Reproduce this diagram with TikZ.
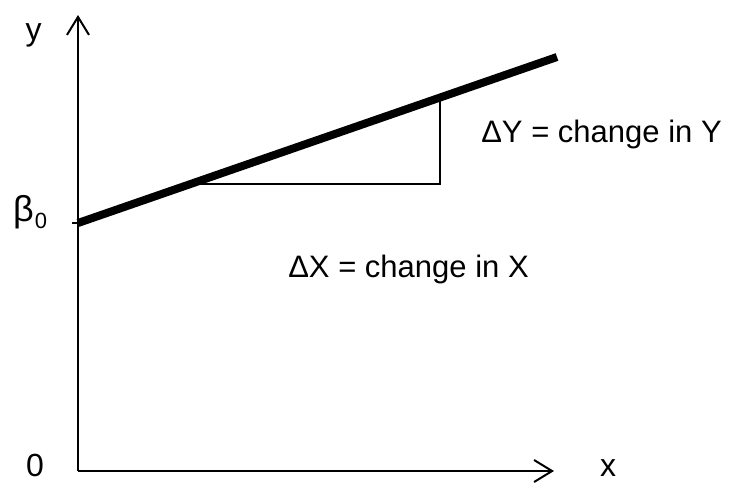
\documentclass[tikz,border=0pt]{standalone}
\usepackage{fontspec}
\setmainfont{Liberation Sans}
\usetikzlibrary{arrows.meta}

\begin{document}
\begin{tikzpicture}[
  x=1pt, y=-1pt,
  axis/.style={line width=2pt, -{Straight Barb[length=18pt, width=22pt, line width=2pt]}},
  regline/.style={line width=8pt},
  thin line/.style={line width=2.2pt},
  lbl/.style={font=\fontsize{32}{36}\selectfont, inner sep=0pt, anchor=base},
  note/.style={font=\fontsize{31}{36}\selectfont, inner sep=0pt, anchor=base},
]
\useasboundingbox (0,0) rectangle (734,483);

% axes
\coordinate (origin) at (78,471);
\coordinate (ytip) at (78,15);
\coordinate (xtip) at (554,471);
\draw[axis] (origin) -- (ytip);
\draw[axis] (origin) -- (xtip);

% regression line
\coordinate (b0) at (78,223);
\coordinate (b0tick) at (72,223);
\coordinate (lineend) at (557,57);
\draw[thin line] (b0tick) -- (b0);
\draw[regline] (b0) -- (lineend);

% slope triangle
\coordinate (runstart) at (200,184);
\coordinate (corner) at (440,184);
\coordinate (risetop) at (440,99);
\draw[thin line] (runstart) -- (corner) -- (risetop);

% labels
\node[lbl] (ylabel) at (33.5,40) {y};
\node[lbl] (xlabel) at (608,476) {x};
\node[lbl] (zero) at (35,476) {0};
\node[lbl, anchor=base west] (beta) at (13,221)
  {{\fontsize{36}{40}\selectfont β}\kern1pt\raisebox{-7pt}{\fontsize{22}{22}\selectfont 0}};
\node[note] (dy) at (601.5,142) {ΔY = change in Y};
\node[note] (dx) at (408.5,277) {ΔX = change in X};

\end{tikzpicture}
\end{document}
